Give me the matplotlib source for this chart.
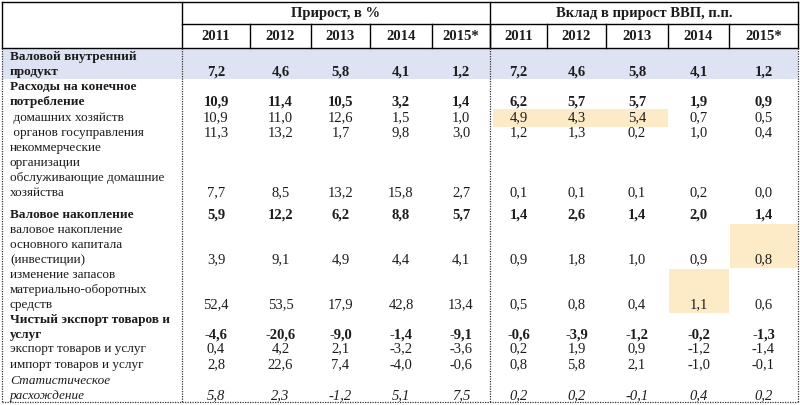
import matplotlib
matplotlib.use("Agg")
import matplotlib.pyplot as plt
from matplotlib.patches import Rectangle

plt.rcParams['font.family'] = ['Liberation Serif', 'DejaVu Serif']

years = ['2011', '2012', '2013', '2014', '2015*']
head_growth = 'Прирост, в %'
head_contrib = 'Вклад в прирост ВВП, п.п.'

row_labels = [
    'Валовой внутренний\nпродукт',
    'Расходы на конечное\nпотребление',
    ' домашних хозяйств',
    ' органов госуправления',
    'некоммерческие\nорганизации\nобслуживающие домашние\nхозяйства',
    'Валовое накопление',
    'валовое накопление\nосновного капитала\n(инвестиции)',
    'изменение запасов\nматериально-оборотных\nсредств',
    'Чистый экспорт товаров и\nуслуг',
    'экспорт товаров и услуг',
    'импорт товаров и услуг',
    'Статистическое\nрасхождение',
]
row_style = ['bold', 'bold', 'normal', 'normal', 'normal', 'bold',
             'normal', 'normal', 'bold', 'normal', 'normal', 'italic']

growth = [
    [7.2, 4.6, 5.8, 4.1, 1.2],
    [10.9, 11.4, 10.5, 3.2, 1.4],
    [10.9, 11.0, 12.6, 1.5, 1.0],
    [11.3, 13.2, 1.7, 9.8, 3.0],
    [7.7, 8.5, 13.2, 15.8, 2.7],
    [5.9, 12.2, 6.2, 8.8, 5.7],
    [3.9, 9.1, 4.9, 4.4, 4.1],
    [52.4, 53.5, 17.9, 42.8, 13.4],
    [-4.6, -20.6, -9.0, -1.4, -9.1],
    [0.4, 4.2, 2.1, -3.2, -3.6],
    [2.8, 22.6, 7.4, -4.0, -0.6],
    [5.8, 2.3, -1.2, 5.1, 7.5],
]
contrib = [
    [7.2, 4.6, 5.8, 4.1, 1.2],
    [6.2, 5.7, 5.7, 1.9, 0.9],
    [4.9, 4.3, 5.4, 0.7, 0.5],
    [1.2, 1.3, 0.2, 1.0, 0.4],
    [0.1, 0.1, 0.1, 0.2, 0.0],
    [1.4, 2.6, 1.4, 2.0, 1.4],
    [0.9, 1.8, 1.0, 0.9, 0.8],
    [0.5, 0.8, 0.4, 1.1, 0.6],
    [-0.6, -3.9, -1.2, -0.2, -1.3],
    [0.2, 1.9, 0.9, -1.2, -1.4],
    [0.8, 5.8, 2.1, -1.0, -0.1],
    [0.2, 0.2, -0.1, 0.4, 0.2],
]

# highlighted cells in contribution block: (row, year index)
highlight = [(2, 0), (2, 1), (2, 2), (6, 4), (7, 3)]

# layout (pixels)
col_edges = [182, 250, 311, 370, 432, 490, 547, 606, 668, 729, 798]
row_top = [57, 87, 118, 133, 148, 215, 230, 275, 320, 349, 365, 381]
step = 15
ink = '#1c1c1c'

fig = plt.figure(figsize=(8, 4.05), dpi=100)
ax = fig.add_axes([0, 0, 1, 1])
ax.set_xlim(0, 800)
ax.set_ylim(405, 0)
ax.axis('off')


def fmt(v):
    return f'{v:.1f}'.replace('.', ',')


# blue band for GDP row
ax.add_patch(Rectangle((2, 48), 796, 31, color='#dde3f2', lw=0, zorder=0))

# highlighted cells
for r, c in highlight:
    n = row_labels[r].count('\n') + 1
    y_last = row_top[r] + (n - 1) * step
    x0 = col_edges[5 + c]
    x1 = col_edges[6 + c]
    if r == 2:
        ax.add_patch(Rectangle((x0 + (3 if c == 0 else 0), y_last - 9),
                               x1 - x0, 18, color='#fdebc8', lw=0, zorder=0))
    else:
        ax.add_patch(Rectangle((x0 + 1, y_last - 36), x1 - x0 - 1, 44,
                               color='#fdebc8', lw=0, zorder=0))

# header lines
solid = dict(color='black', lw=1.0)
ax.plot([2, 798], [2, 2], **solid)
ax.plot([182, 798], [24, 24], **solid)
ax.plot([2, 798], [48, 48], **solid)
for x in [2, 182, 490, 798]:
    ax.plot([x, x], [2, 48], **solid)
for x in col_edges[1:-1]:
    ax.plot([x, x], [24, 48], **solid)

# dotted body lines
dot = dict(color='#333333', lw=0.9, ls=(0, (1, 1)))
for x in [2, 182, 490, 798]:
    ax.plot([x, x], [48, 402], **dot)
ax.plot([2, 798], [402, 402], **dot)

# header text
ax.text((182 + 490) / 2, 14, head_growth, ha='center', va='center',
        fontsize=10.5, fontweight='bold', color=ink)
ax.text((490 + 798) / 2, 14, head_contrib, ha='center', va='center',
        fontsize=10.5, fontweight='bold', color=ink)
for i in range(10):
    xc = (col_edges[i] + col_edges[i + 1]) / 2
    ax.text(xc, 36, years[i % 5], ha='center', va='center',
            fontsize=10.5, fontweight='bold', color=ink)

# body
for r, label in enumerate(row_labels):
    style = row_style[r]
    weight = 'bold' if style == 'bold' else 'normal'
    fstyle = 'italic' if style == 'italic' else 'normal'
    lines = label.split('\n')
    for k, line in enumerate(lines):
        ax.text(10, row_top[r] + k * step, line, ha='left', va='center',
                fontsize=9.5, fontweight=weight, fontstyle=fstyle, color=ink)
    y_last = row_top[r] + (len(lines) - 1) * step
    vals = growth[r] + contrib[r]
    for i, v in enumerate(vals):
        xc = (col_edges[i] + col_edges[i + 1]) / 2
        ax.text(xc, y_last, fmt(v), ha='center', va='center',
                fontsize=10.5, fontweight=weight, fontstyle=fstyle, color=ink)

fig.savefig('out.png', dpi=100)
